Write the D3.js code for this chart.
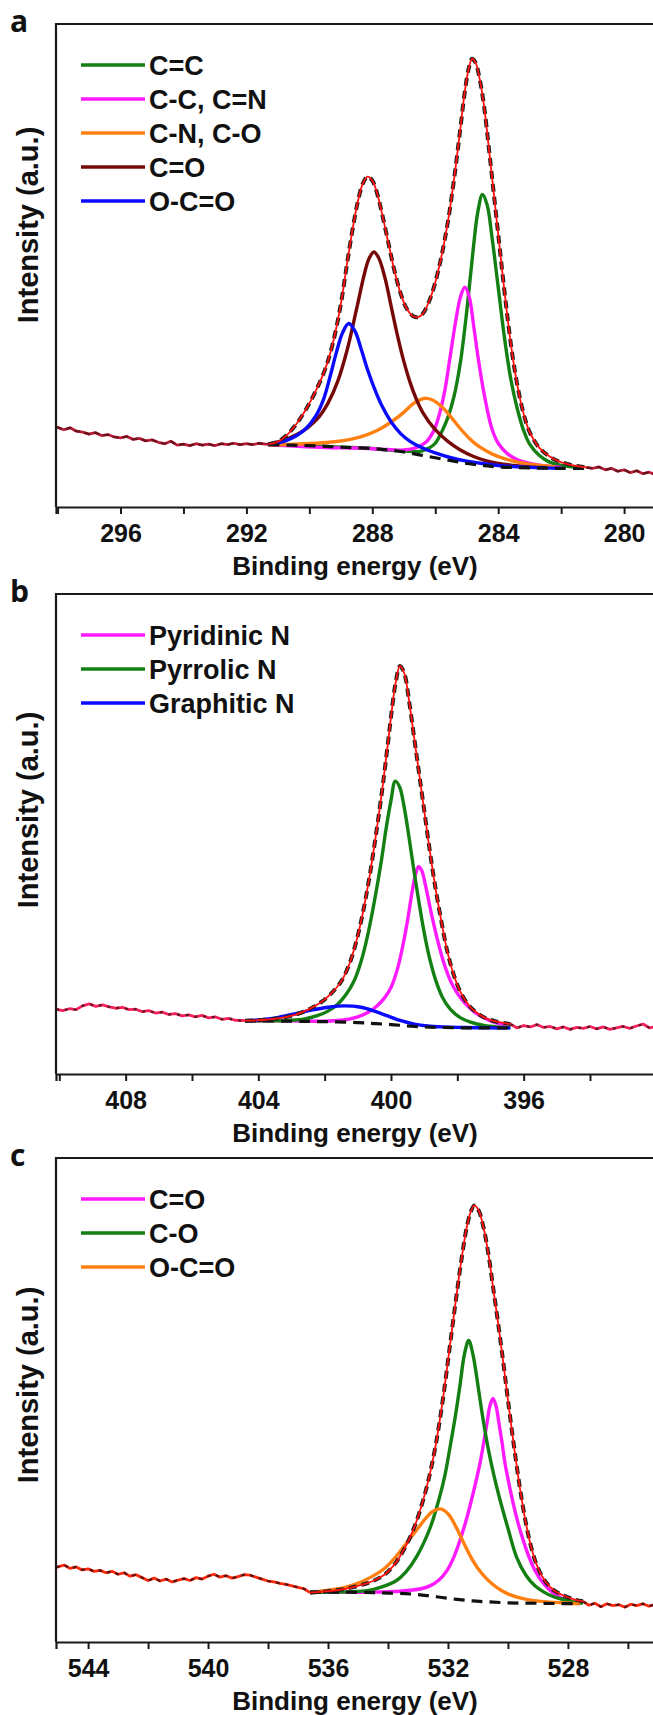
<!DOCTYPE html>
<html><head><meta charset="utf-8">
<script src="https://cdn.jsdelivr.net/npm/d3@7"></script>
<style>body{margin:0;background:#fff}svg{display:block}</style>
</head><body><svg id="chart" width="653" height="1715"></svg>
<script>
// ---------- Panel a : C 1s ----------
const aNames = ['C=C','C-C, C=N','C-N, C-O','C=O','O-C=O'];
const aMajorTicks = [296,292,288,284,280];
const aMinorTicks = [298,294,290,286,282];
const aLeftRaw = [[298.05,16.6],[297.8,16.0],[297.6,16.4],[297.4,15.7],[297.2,15.5],[297.0,15.1],[296.8,15.4],[296.6,14.8],[296.4,15.0],[296.2,14.5],[296.0,14.3],[295.8,14.6],[295.6,14.0],[295.4,14.2],[295.2,13.7],[295.0,13.9],[294.8,13.4],[294.6,13.1],[294.4,13.6],[294.2,12.8],[294.0,13.0],[293.8,12.7],[293.6,13.1],[293.4,12.8],[293.2,13.0],[293.0,12.7],[292.8,13.1],[292.6,12.9],[292.4,13.2],[292.2,12.9],[292.0,13.1],[291.8,12.9],[291.6,13.2],[291.4,13.0],[291.3,13.0]];
const aEnvelope = [[291.3,13.0],[291.0,13.5],[290.7,15.0],[290.4,17.3],[290.1,20.3],[289.8,24.0],[289.5,28.5],[289.25,34.0],[289.0,42.0],[288.8,50.5],[288.6,58.5],[288.45,63.5],[288.3,67.0],[288.15,68.4],[288.0,67.6],[287.85,65.0],[287.7,61.0],[287.5,55.0],[287.3,49.0],[287.1,44.2],[286.9,41.0],[286.7,39.5],[286.55,39.3],[286.4,40.0],[286.2,42.5],[286.0,46.5],[285.8,52.0],[285.6,59.0],[285.4,68.0],[285.2,78.5],[285.05,86.5],[284.93,91.0],[284.83,92.8],[284.72,92.0],[284.6,89.0],[284.45,83.0],[284.3,74.5],[284.15,65.5],[284.0,56.5],[283.85,47.5],[283.7,39.0],[283.55,31.5],[283.4,25.5],[283.2,19.5],[283.0,15.5],[282.7,12.3],[282.4,10.6],[282.1,9.5],[281.8,8.9],[281.5,8.5],[281.2,8.2]];
const aRightRaw = [[281.2,8.2],[281.0,8.0],[280.8,8.3],[280.6,7.7],[280.4,8.0],[280.2,7.4],[280.0,7.7],[279.8,7.1],[279.6,7.5],[279.4,6.9],[279.2,7.2],[279.05,6.8]];
const aBackground = [[291.3,12.9],[290.0,12.7],[289.0,12.4],[288.0,12.1],[287.5,11.8],[287.0,11.4],[286.5,10.8],[286.0,10.2],[285.5,9.6],[285.0,9.0],[284.5,8.6],[284.0,8.3],[283.0,8.1],[282.0,8.0],[281.2,8.0]];
const aCC = [[291.3,12.9],[290.0,12.7],[289.0,12.4],[288.0,12.1],[287.5,11.8],[287.0,11.6],[286.5,11.5],[286.2,12.2],[286.0,13.2],[285.8,15.5],[285.6,18.5],[285.4,23.0],[285.2,30.0],[285.0,40.5],[284.8,53.0],[284.65,61.0],[284.5,64.7],[284.35,62.5],[284.2,56.0],[284.0,45.5],[283.8,35.0],[283.6,26.5],[283.4,20.5],[283.2,16.0],[283.0,13.0],[282.7,10.7],[282.4,9.4],[282.0,8.6],[281.5,8.2]];
const aCCN = [[291.3,12.9],[290.5,12.6],[289.5,12.3],[288.5,12.2],[287.5,11.9],[287.0,11.8],[286.6,12.3],[286.3,13.4],[286.07,15.5],[285.9,18.5],[285.7,24.0],[285.53,31.0],[285.35,38.5],[285.2,43.5],[285.06,45.5],[284.92,43.5],[284.78,37.5],[284.64,31.0],[284.45,23.5],[284.2,16.2],[284.0,13.2],[283.7,11.0],[283.4,9.8],[283.0,9.0],[282.5,8.5],[282.0,8.2]];
const aCNCO = [[291.3,12.9],[290.5,13.0],[289.8,13.2],[289.2,13.5],[288.7,14.0],[288.2,14.9],[287.8,16.0],[287.4,17.6],[287.0,19.6],[286.7,21.4],[286.45,22.3],[286.3,22.5],[286.1,22.2],[285.8,20.8],[285.5,18.6],[285.2,16.2],[284.9,14.1],[284.6,12.5],[284.2,11.0],[283.8,10.0],[283.3,9.2],[282.8,8.7],[282.2,8.3]];
const aCO = [[291.3,13.0],[290.8,13.9],[290.4,15.0],[290.04,16.5],[289.7,18.6],[289.4,21.6],[289.1,26.0],[288.8,32.5],[288.5,41.0],[288.25,48.3],[288.1,51.5],[287.95,52.8],[287.8,51.6],[287.6,47.5],[287.4,41.5],[287.2,35.5],[287.0,30.2],[286.8,25.8],[286.6,22.3],[286.4,19.6],[286.0,16.0],[285.6,13.6],[285.2,11.8],[284.8,10.5],[284.4,9.6],[284.0,9.0],[283.5,8.6],[283.0,8.3],[282.5,8.2]];
const aOCO = [[291.3,12.9],[290.8,13.6],[290.4,14.8],[290.1,16.3],[289.8,18.8],[289.55,22.3],[289.35,26.8],[289.15,31.8],[288.95,36.0],[288.75,38.0],[288.55,36.4],[288.35,32.6],[288.15,28.4],[287.95,24.8],[287.7,21.0],[287.4,17.6],[287.1,15.2],[286.8,13.6],[286.4,12.2],[286.0,11.2],[285.5,10.2],[285.0,9.5],[284.5,9.0],[284.0,8.6],[283.0,8.2],[282.0,8.0]];

// ---------- Panel b : N 1s ----------
const bNames = ['Pyridinic N','Pyrrolic N','Graphitic N'];
const bMajorTicks = [408,404,400,396];
const bMinorTicks = [410,406,402,398,394];
const bLeftRaw = [[410.1,13.5],[409.9,13.2],[409.7,13.6],[409.5,13.4],[409.3,14.2],[409.1,14.6],[408.9,14.1],[408.7,14.4],[408.5,14.0],[408.3,13.7],[408.1,13.9],[407.9,13.4],[407.7,13.5],[407.5,13.0],[407.3,13.2],[407.1,12.7],[406.9,12.9],[406.7,12.4],[406.5,12.6],[406.3,12.1],[406.1,12.3],[405.9,11.9],[405.7,12.2],[405.5,11.7],[405.3,11.9],[405.1,11.4],[404.9,11.6],[404.7,11.2],[404.4,11.1]];
const bEnvelope = [[404.4,11.1],[403.8,11.3],[403.3,11.7],[402.9,12.3],[402.5,13.4],[402.1,15.0],[401.8,16.8],[401.5,19.3],[401.25,23.0],[401.05,27.5],[400.85,33.5],[400.65,41.0],[400.45,50.0],[400.25,60.0],[400.1,68.5],[399.98,75.5],[399.86,81.5],[399.73,85.0],[399.6,83.5],[399.45,77.5],[399.3,70.0],[399.15,62.5],[399.0,55.0],[398.85,47.5],[398.7,40.5],[398.5,32.5],[398.3,25.5],[398.1,20.5],[397.9,17.0],[397.65,14.3],[397.4,12.7],[397.1,11.5],[396.8,10.9],[396.4,10.4]];
const bRightRaw = [[396.4,10.4],[396.2,9.6],[396.0,10.1],[395.8,9.8],[395.6,10.3],[395.4,9.7],[395.2,9.9],[395.0,9.4],[394.8,9.8],[394.6,9.3],[394.4,9.7],[394.2,9.5],[394.0,9.9],[393.8,9.4],[393.6,9.8],[393.4,9.3],[393.2,9.6],[393.0,9.9],[392.8,9.5],[392.6,10.0],[392.4,10.4],[392.2,9.6],[392.07,9.8]];
const bBackground = [[404.4,11.1],[403.0,11.0],[402.0,10.9],[401.0,10.7],[400.5,10.5],[400.0,10.3],[399.5,10.0],[399.0,9.8],[398.5,9.7],[397.5,9.6],[396.4,9.6]];
const bPyridinic = [[404.4,11.1],[403.0,11.1],[402.0,11.0],[401.5,11.2],[401.0,11.9],[400.7,12.8],[400.45,14.0],[400.2,15.8],[400.0,18.0],[399.8,22.0],[399.65,26.5],[399.5,32.0],[399.35,38.5],[399.25,41.8],[399.17,43.2],[399.08,42.5],[398.95,39.0],[398.8,34.0],[398.6,28.0],[398.4,23.0],[398.2,19.3],[398.0,16.8],[397.75,14.6],[397.5,13.0],[397.2,11.7],[396.9,10.8],[396.5,10.1]];
const bPyrrolic = [[404.4,11.1],[403.5,11.1],[403.0,11.2],[402.6,11.5],[402.2,12.2],[401.9,13.1],[401.6,14.6],[401.35,16.6],[401.1,19.6],[400.9,23.5],[400.7,29.0],[400.5,36.0],[400.3,44.0],[400.15,51.0],[400.0,57.0],[399.87,61.0],[399.74,59.8],[399.6,55.5],[399.45,49.0],[399.3,42.0],[399.15,35.5],[399.0,29.5],[398.85,24.5],[398.65,19.5],[398.45,16.0],[398.2,13.4],[397.9,11.7],[397.6,10.8],[397.2,10.1],[396.8,9.8],[396.4,9.7]];
const bGraphitic = [[404.4,11.1],[403.9,11.3],[403.4,11.8],[402.9,12.5],[402.4,13.3],[401.9,13.9],[401.4,14.2],[400.9,13.9],[400.5,13.1],[400.1,12.1],[399.7,11.1],[399.3,10.4],[398.9,10.0],[398.4,9.8],[397.8,9.7],[397.0,9.6],[396.4,9.6]];

// ---------- Panel c : O 1s ----------
const cNames = ['C=O','C-O','O-C=O'];
const cMajorTicks = [544,540,536,532,528];
const cMinorTicks = [542,538,534,530,526];
const cLeftRaw = [[545.07,15.4],[544.8,15.9],[544.6,15.2],[544.4,15.5],[544.2,14.9],[544.0,15.1],[543.8,14.6],[543.6,14.8],[543.4,14.3],[543.2,14.6],[543.0,14.0],[542.8,14.3],[542.6,13.6],[542.4,13.9],[542.2,13.3],[542.0,12.7],[541.8,13.2],[541.6,12.6],[541.4,13.0],[541.2,12.4],[541.0,12.8],[540.8,13.1],[540.6,12.7],[540.4,13.3],[540.2,13.0],[540.0,13.6],[539.8,14.0],[539.6,13.4],[539.4,13.7],[539.2,13.2],[539.0,13.5],[538.8,13.9],[538.6,13.8],[538.4,13.4],[538.2,13.0],[538.0,12.6],[537.8,12.4],[537.6,12.1],[537.4,11.9],[537.2,11.6],[537.0,11.3],[536.8,11.0],[536.6,10.2]];
const cEnvelope = [[536.6,10.2],[536.0,10.5],[535.5,10.9],[535.0,11.6],[534.5,12.6],[534.1,14.0],[533.75,16.3],[533.45,19.3],[533.15,23.3],[532.9,27.8],[532.65,33.5],[532.4,41.0],[532.15,51.0],[531.95,60.5],[531.75,70.0],[531.55,79.0],[531.38,85.5],[531.25,88.7],[531.12,90.2],[530.98,89.2],[530.82,85.8],[530.66,80.5],[530.5,73.5],[530.32,65.5],[530.15,57.5],[530.0,50.0],[529.8,40.5],[529.6,31.8],[529.4,24.5],[529.2,19.0],[529.0,15.3],[528.75,12.5],[528.45,10.6],[528.1,9.5],[527.8,8.8],[527.5,8.4]];
const cRightRaw = [[527.5,8.4],[527.3,7.6],[527.1,8.0],[526.9,7.3],[526.7,7.9],[526.5,7.5],[526.3,7.7],[526.1,7.2],[525.9,7.8],[525.7,7.5],[525.5,7.9],[525.3,7.4],[525.13,7.7]];
const cBackground = [[536.6,10.3],[535.5,10.3],[534.5,10.2],[533.8,10.1],[533.2,9.9],[532.7,9.6],[532.2,9.2],[531.7,8.8],[531.2,8.5],[530.7,8.3],[530.0,8.1],[529.0,8.0],[527.6,7.9]];
const cCdO = [[536.6,10.3],[535.5,10.3],[534.5,10.3],[533.6,10.5],[532.9,11.0],[532.6,11.6],[532.3,12.8],[532.04,14.7],[531.8,17.6],[531.6,21.0],[531.42,24.6],[531.27,28.0],[531.1,32.3],[530.93,37.0],[530.8,41.5],[530.7,45.2],[530.6,48.8],[530.5,50.3],[530.4,48.8],[530.3,45.2],[530.2,41.3],[530.1,37.0],[529.96,32.5],[529.82,28.5],[529.65,24.3],[529.49,21.0],[529.3,17.6],[529.1,14.8],[528.8,12.0],[528.49,10.1],[528.04,8.6],[527.7,8.1]];
const cCO = [[536.6,10.3],[536.0,10.3],[535.2,10.4],[534.7,10.6],[534.2,11.4],[533.74,12.6],[533.4,14.5],[533.04,17.7],[532.6,23.5],[532.3,29.5],[532.1,34.5],[531.93,40.3],[531.75,46.8],[531.6,53.0],[531.45,59.5],[531.31,62.3],[531.17,59.5],[531.0,53.0],[530.85,46.8],[530.66,40.0],[530.47,34.5],[530.27,29.5],[530.0,23.5],[529.71,17.5],[529.4,13.8],[529.1,11.6],[528.8,10.3],[528.5,9.4],[528.16,8.8],[527.8,8.3],[527.5,8.0]];
const cOCO = [[536.6,10.2],[536.0,10.7],[535.5,11.2],[535.1,11.9],[534.6,13.3],[534.1,15.3],[533.7,17.9],[533.35,20.7],[533.0,23.5],[532.75,25.5],[532.5,27.0],[532.25,27.5],[532.0,26.5],[531.75,24.0],[531.5,20.8],[531.25,17.7],[531.0,15.2],[530.7,13.0],[530.4,11.4],[530.05,10.1],[529.6,9.1],[529.2,8.6],[528.7,8.3],[528.2,8.1],[527.6,7.9]];

// ---------- colours ----------
const GREEN='#148014', MAGENTA='#ff1aff', ORANGE='#ff8010', MAROON='#760808', BLUE='#0a0aff', RED='#ff1010';

const panels = [
  {letter:'a', top:24, bottom:507, labelY:225, domain:[298.05,279.05], major:aMajorTicks, minor:aMinorTicks,
   left:aLeftRaw, env:aEnvelope, right:aRightRaw, bg:aBackground, flank:'#b81c3a', flankDark:'#6a1218', flankDash:'6,4',
   comps:[[aCC,GREEN],[aCCN,MAGENTA],[aCNCO,ORANGE],[aCO,MAROON],[aOCO,BLUE]], names:aNames},
  {letter:'b', top:594, bottom:1074, labelY:810, domain:[410.1,392.07], major:bMajorTicks, minor:bMinorTicks,
   left:bLeftRaw, env:bEnvelope, right:bRightRaw, bg:bBackground, flank:'#f8205c', flankDark:'#5e1818', flankDash:'3,6',
   comps:[[bPyridinic,MAGENTA],[bPyrrolic,GREEN],[bGraphitic,BLUE]], names:bNames},
  {letter:'c', top:1158, bottom:1642, labelY:1385, domain:[545.07,525.13], major:cMajorTicks, minor:cMinorTicks,
   left:cLeftRaw, env:cEnvelope, right:cRightRaw, bg:cBackground, flank:'#ff2a0c', flankDark:'#5e1010', flankDash:'4,5',
   comps:[[cCdO,MAGENTA],[cCO,GREEN],[cOCO,ORANGE]], names:cNames}
];

const svg = d3.select('#chart');
svg.append('rect').attr('width',653).attr('height',1715).attr('fill','#fff');
const X0 = 56, X1 = 654;
const FONT = "'Liberation Sans', Arial, sans-serif";

panels.forEach(p => {
  const g = svg.append('g');
  const x = d3.scaleLinear().domain(p.domain).range([X0, X1]);
  const y = d3.scaleLinear().domain([0, 100]).range([p.bottom, p.top]);
  const lin = d3.line().x(d => x(d[0])).y(d => y(d[1]));
  const smooth = d3.line().x(d => x(d[0])).y(d => y(d[1])).curve(d3.curveCatmullRom.alpha(0.5));

  const clip = 'clip-' + p.letter;
  g.append('clipPath').attr('id', clip).append('rect')
    .attr('x', X0).attr('y', p.top).attr('width', X1 - X0).attr('height', p.bottom - p.top);
  const plot = g.append('g').attr('clip-path', `url(#${clip})`);

  // flank raw data
  [p.left, p.right].forEach(seg => {
    plot.append('path').attr('d', lin(seg)).attr('fill','none').attr('stroke', p.flank).attr('stroke-width', 2.8).attr('stroke-linejoin','round');
    plot.append('path').attr('d', lin(seg)).attr('fill','none').attr('stroke', p.flankDark).attr('stroke-width', 2.2).attr('stroke-dasharray', p.flankDash);
  });
  // components
  p.comps.forEach(([data, col]) => {
    plot.append('path').attr('d', smooth(data)).attr('fill','none').attr('stroke', col).attr('stroke-width', 3.4).attr('stroke-linejoin','round');
  });
  // background (dashed)
  plot.append('path').attr('d', smooth(p.bg)).attr('fill','none').attr('stroke','#111').attr('stroke-width', 3.2).attr('stroke-dasharray','11,7');
  // raw data in fit region (dashed black) + envelope (red)
  plot.append('path').attr('d', smooth(p.env)).attr('fill','none').attr('stroke','#222').attr('stroke-width', 4).attr('stroke-dasharray','8,5');
  plot.append('path').attr('d', smooth(p.env)).attr('fill','none').attr('stroke', RED).attr('stroke-width', 1.8);

  // frame (left + top)
  g.append('path').attr('d', `M${X0},${p.bottom}V${p.top}H${X1 + 5}`).attr('fill','none').attr('stroke','#1a1a1a').attr('stroke-width', 2.2);

  // x axis
  const ticks = p.major.concat(p.minor);
  const ax = g.append('g').attr('transform', `translate(0,${p.bottom})`)
    .call(d3.axisBottom(x).tickValues(ticks).tickSizeOuter(0).tickSize(7)
      .tickFormat(d => p.major.includes(d) ? d : ''));
  ax.select('.domain').attr('stroke','#1a1a1a').attr('stroke-width', 2.2);
  ax.selectAll('.tick line').attr('stroke','#1a1a1a').attr('stroke-width', 2);
  ax.selectAll('.tick text').attr('y', 17).attr('dy','0.71em').attr('fill','#111')
    .style('font-family', FONT).style('font-weight','bold').style('font-size','25px');

  g.append('text').attr('x', (X0 + X1) / 2).attr('y', p.bottom + 68).attr('text-anchor','middle')
    .style('font-family', FONT).style('font-weight','bold').style('font-size','26px').attr('fill','#111')
    .text('Binding energy (eV)');

  g.append('text').attr('transform', `translate(38,${p.labelY}) rotate(-90)`)
    .attr('text-anchor','middle')
    .style('font-family', FONT).style('font-weight','bold').style('font-size','29px').attr('fill','#111')
    .text('Intensity (a.u.)');

  g.append('text').attr('x', 10).attr('y', p.top + 8)
    .style('font-family', "'Open Sans', sans-serif").style('font-weight','bold').style('font-size','30px').attr('fill','#111')
    .text(p.letter);

  // legend
  p.comps.forEach(([data, col], i) => {
    const ly = p.top + 41 + i * 34;
    g.append('line').attr('x1', 81).attr('x2', 145).attr('y1', ly).attr('y2', ly).attr('stroke', col).attr('stroke-width', 3.6);
    g.append('text').attr('x', 149).attr('y', ly).attr('dy','0.36em')
      .style('font-family', FONT).style('font-weight','bold').style('font-size','27px').attr('fill','#111')
      .text(p.names[i]);
  });
});
</script></body></html>
